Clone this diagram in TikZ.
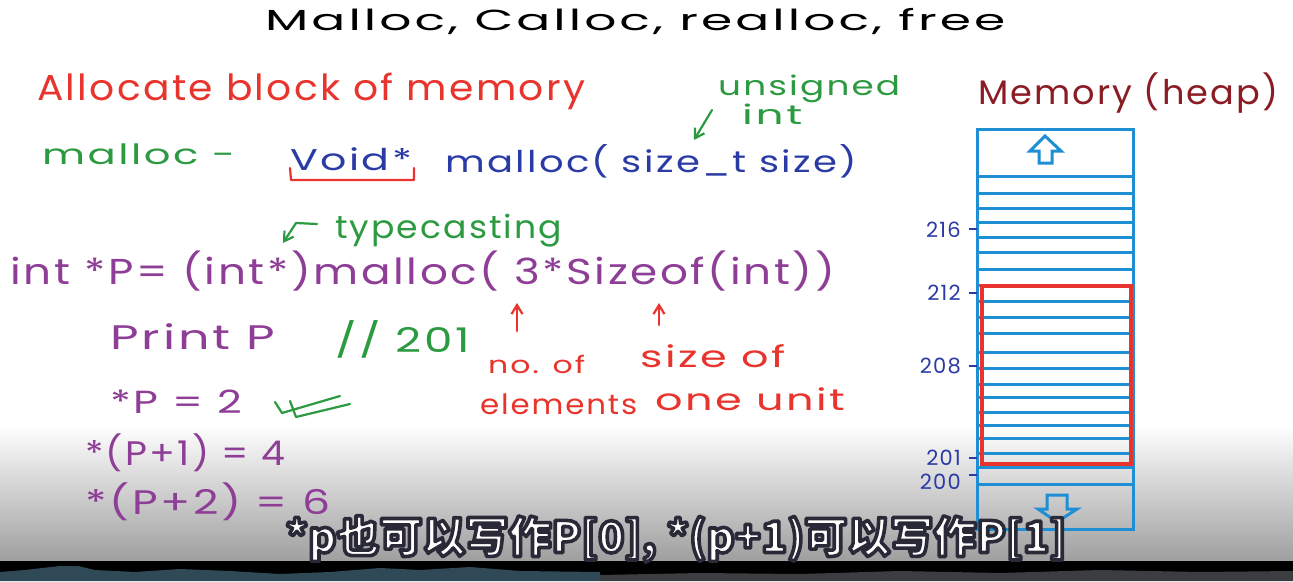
\documentclass[tikz,border=0pt]{standalone}
\usepackage{fontspec}
\setmainfont{Poppins}
\newfontfamily\handfont[LetterSpace=6]{Poppins}
\newfontfamily\cjkfont{Noto Sans CJK SC}
\usetikzlibrary{arrows.meta, positioning, calc}
\definecolor{cred}{HTML}{E8342C}
\definecolor{cgreen}{HTML}{2C9A40}
\definecolor{cblue}{HTML}{2B3BA6}
\definecolor{cpurple}{HTML}{8E3E96}
\definecolor{cmaroon}{HTML}{8B1C24}
\definecolor{cheap}{HTML}{1E8FD5}
\definecolor{cteal}{HTML}{2F4A56}
\definecolor{cband}{HTML}{3B3D40}
\newcommand{\fitw}[2]{\resizebox{#1}{\height}{#2}}
% white caption letters with a dark outline (text render mode 2)
\newcommand{\outlined}[1]{\special{pdf:literal direct 2 Tr 3.6 w 1 j 0.16 0.16 0.22 RG}#1\special{pdf:literal direct 0 Tr}}
\tikzset{
  hand/.style={font=\handfont\fontsize{#1pt}{#1pt}\selectfont, inner sep=0pt, anchor=base west},
  ink/.style={line width=2.2pt, line cap=round, line join=round},
  pen/.style={-{Straight Barb[length=9pt, width=11pt]}, ink, draw=#1},
  heapline/.style={draw=cheap, line width=3pt},
  subtitle/.style={font=\cjkfont\bfseries\fontsize{43pt}{43pt}\selectfont, inner sep=0pt},
}

\begin{document}
\begin{tikzpicture}[x=1pt, y=-1pt,
  num/.style={font=\handfont\fontsize{21pt}{21pt}\selectfont, text=cblue, inner sep=0pt, anchor=east}]
  \useasboundingbox (0,0) rectangle (1293,581);
  \fill[white] (0,0) rectangle (1293,581);
  % video overlay at the bottom
  \shade[top color=white, bottom color=black!38] (0,425) rectangle (1293,562);
  \fill[black] (0,561) rectangle (1293,581);
  \fill[cteal] (0,581) -- (0,572) -- (25,570) -- (60,566) -- (78,566) -- (95,570) -- (135,572)
    -- (180,569) -- (230,571) -- (280,574) -- (330,572) -- (380,568) -- (420,570) -- (470,567)
    -- (520,571) -- (600,572) -- (600,581) -- cycle;
  \fill[cband] (600,581) -- (600,575) -- (700,573) -- (800,574) -- (900,571) -- (1000,573)
    -- (1100,570) -- (1200,572) -- (1293,571) -- (1293,581) -- cycle;

  % title and first lines
  \node[hand=29, text=black] (title) at (265,30) {\fitw{740pt}{Malloc, Calloc, realloc, free}};
  \node[hand=36, text=cred] (alloc) at (37,100) {\fitw{548pt}{Allocate block of memory}};
  \node[hand=27, text=cgreen] (unsigned) at (718,95) {\fitw{182pt}{unsigned}};
  \node[hand=27, text=cgreen] (uint) at (742,124) {\fitw{60pt}{int}};
  \node[hand=28, text=cgreen] (mdash) at (42,164) {\fitw{193pt}{malloc -}};
  \node[hand=30, text=cblue] (voidp) at (290,170) {\fitw{122pt}{Void*}};
  \node[hand=30, text=cblue] (sig) at (445,172) {\fitw{412pt}{malloc( size\_t size)}};
  \coordinate (uTail) at (712,110);
  \coordinate (uHead) at (694,140);
  \draw[pen=cgreen] (uTail) -- (uHead);
  \draw[ink, draw=cred] (290,168) -- (291,180) -- (414,180) -- (414,168);

  % typecasting line
  \node[hand=32, text=cgreen] (cast) at (335,238) {\fitw{227pt}{typecasting}};
  \coordinate (cTail) at (317,224);
  \coordinate (cHead) at (283,243);
  \draw[pen=cgreen] (cTail) -- (296,223) -- (cHead);
  \node[hand=36, text=cpurple] (decl) at (10,284) {\fitw{825pt}{int *P= (int*)malloc( 3*Sizeof(int))}};
  \coordinate (nTail) at (517,331);
  \coordinate (nHead) at (517,303);
  \coordinate (sTail) at (659,325);
  \coordinate (sHead) at (659,303);
  \draw[pen=cred] (nTail) -- (nHead);
  \draw[pen=cred] (sTail) -- (sHead);
  \node[hand=34, text=cpurple] (print) at (110,349) {\fitw{165pt}{Print P}};
  \node[hand=34, text=cgreen] (addr) at (335,352) {\fitw{135pt}{// 201}};
  \node[hand=24, text=cred] (noof) at (488,373) {\fitw{97pt}{no. of}};
  \node[hand=28, text=cred] (elems) at (480,414) {\fitw{157pt}{elements}};
  \node[hand=30, text=cred] (sizeof) at (640,367) {\fitw{145pt}{size of}};
  \node[hand=30, text=cred] (unit) at (655,410) {\fitw{190pt}{one unit}};

  % dereferencing
  \node[hand=32, text=cpurple] (deref0) at (110,413) {\fitw{132pt}{*P = 2}};
  \draw[ink, draw=cgreen] (275,402) -- (282,413) -- (340,396);
  \draw[ink, draw=cgreen] (290,401) -- (296,417) -- (350,404);
  \node[hand=34, text=cpurple] (deref1) at (85,465) {\fitw{200pt}{*(P+1) = 4}};
  \node[hand=34, text=cpurple] (deref2) at (85,514) {\fitw{245pt}{*(P+2) = 6}};

  % heap column
  \node[hand=34, text=cmaroon] (heap) at (978,104) {\fitw{300pt}{Memory (heap)}};
  \foreach \y in {176,193,208,222,237,252,269,285,301,317,333,352,368,384,397,412,425,438,453,467,484}
    \draw[heapline] (977,\y) -- (1133,\y);
  \draw[heapline] (977,129) rectangle (1133,529);
  \draw[draw=cred, line width=4.5pt] (982,286) rectangle (1131,464);
  \draw[heapline, line join=miter] (1045,136) -- (1061,151) -- (1052,151) -- (1052,163)
    -- (1039,163) -- (1039,151) -- (1030,151) -- cycle;
  \draw[heapline, line join=miter] (1047,495) -- (1067,495) -- (1067,509) -- (1077,509)
    -- (1057,522) -- (1038,509) -- (1047,509) -- cycle;
  \foreach \v/\y/\t in {216/230/229, 212/293/293, 208/366/366, 201/458/458, 200/482/475} {
    \node[num] (n\v) at (961,\y) {\v};
    \draw[cblue, line width=2pt] (969,\t) -- (977,\t);
  }

  % subtitle
  \node[subtitle, text=white] (sub) at (676,539) {\outlined{*p也可以写作P[0], *(p+1)可以写作P[1]}};
\end{tikzpicture}
\end{document}
